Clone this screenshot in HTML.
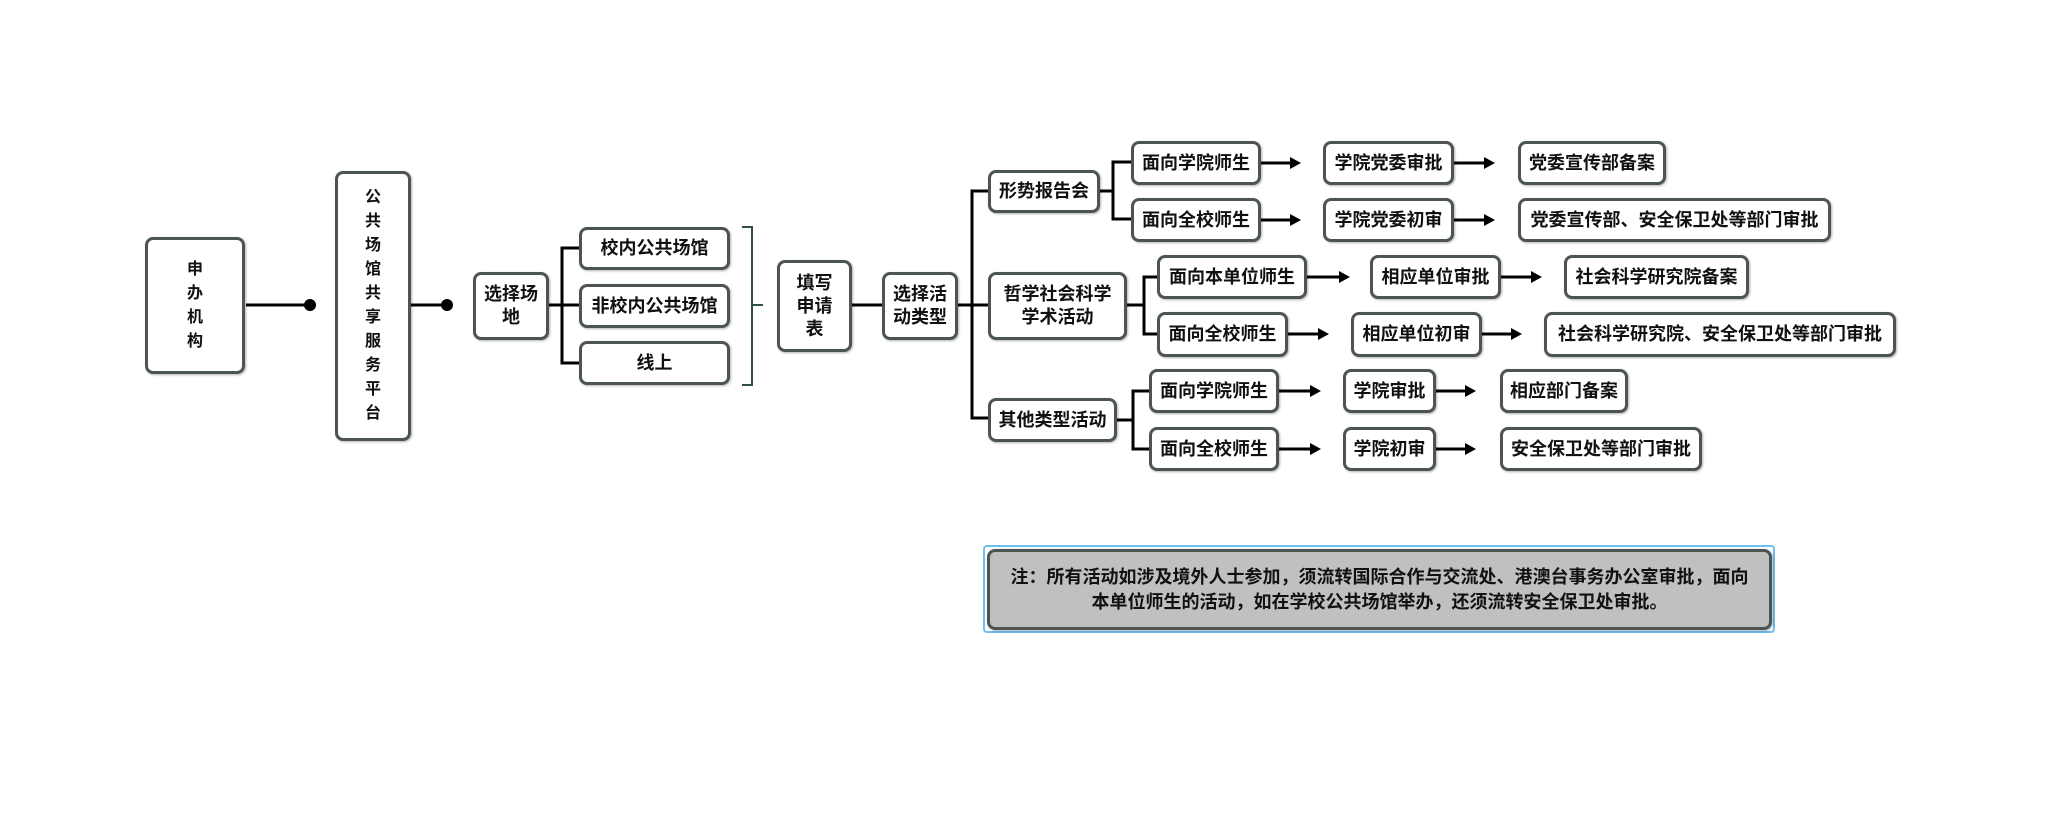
<!DOCTYPE html>
<html><head><meta charset="utf-8"><style>
body{margin:0;width:2048px;height:825px;background:#fff;position:relative;overflow:hidden;font-family:"Liberation Sans","Noto Sans CJK SC",sans-serif;}
.b{position:absolute;box-sizing:border-box;border:3px solid #4c5454;border-radius:8px;background:#fff;display:flex;align-items:center;justify-content:center;text-align:center;font-size:18px;font-weight:bold;color:#111;line-height:23px;box-shadow:1px 1px 2px rgba(0,0,0,.3);white-space:nowrap;}
.v{font-weight:bold;font-size:16px;line-height:24px;}
svg{position:absolute;left:0;top:0;}
</style></head><body>
<svg width="2048" height="825">
<g stroke="#000" stroke-width="3" fill="none">
<line x1="246" y1="305" x2="310" y2="305"/>
<line x1="410" y1="305" x2="447" y2="305"/>
<line x1="548" y1="305" x2="579" y2="305"/>
<polyline points="579,248 562,248 562,363 579,363"/>
<line x1="851" y1="305" x2="882" y2="305"/>
<line x1="957" y1="305" x2="988" y2="305"/>
<polyline points="988,191 972,191 972,418 988,418"/>
<line x1="1099" y1="191" x2="1113" y2="191"/>
<polyline points="1131,162 1113,162 1113,219 1131,219"/>
<line x1="1127" y1="305" x2="1144" y2="305"/>
<polyline points="1157,277 1144,277 1144,334 1157,334"/>
<line x1="1117" y1="420" x2="1133" y2="420"/>
<polyline points="1149,391 1133,391 1133,449 1149,449"/>
<line x1="1261" y1="163" x2="1292" y2="163"/><line x1="1454" y1="163" x2="1486" y2="163"/>
<line x1="1261" y1="220" x2="1292" y2="220"/><line x1="1454" y1="220" x2="1486" y2="220"/>
<line x1="1307" y1="277" x2="1341" y2="277"/><line x1="1501" y1="277" x2="1533" y2="277"/>
<line x1="1288" y1="334" x2="1320" y2="334"/><line x1="1482" y1="334" x2="1513" y2="334"/>
<line x1="1279" y1="391" x2="1312" y2="391"/><line x1="1436" y1="391" x2="1467" y2="391"/>
<line x1="1279" y1="449" x2="1312" y2="449"/><line x1="1436" y1="449" x2="1467" y2="449"/>
</g>
<g fill="#000">
<circle cx="310" cy="305" r="6"/><circle cx="447" cy="305" r="6"/>
<polygon points="1290,157 1301,163 1290,169"/><polygon points="1484,157 1495,163 1484,169"/>
<polygon points="1290,214 1301,220 1290,226"/><polygon points="1484,214 1495,220 1484,226"/>
<polygon points="1339,271 1350,277 1339,283"/><polygon points="1531,271 1542,277 1531,283"/>
<polygon points="1318,328 1329,334 1318,340"/><polygon points="1511,328 1522,334 1511,340"/>
<polygon points="1310,385 1321,391 1310,397"/><polygon points="1465,385 1476,391 1465,397"/>
<polygon points="1310,443 1321,449 1310,455"/><polygon points="1465,443 1476,449 1465,455"/>
</g>
<polyline points="742,227 752,227 752,385 742,385" stroke="#2f4f4f" stroke-width="2" fill="none"/>
<line x1="752" y1="305" x2="763" y2="305" stroke="#2f4f4f" stroke-width="2"/>
</svg>
<div class="b v" style="left:145px;top:237px;width:100px;height:137px;">申<br>办<br>机<br>构</div>
<div class="b v" style="left:335px;top:171px;width:76px;height:270px;">公<br>共<br>场<br>馆<br>共<br>享<br>服<br>务<br>平<br>台</div>
<div class="b" style="left:473px;top:272px;width:76px;height:68px;">选择场<br>地</div>
<div class="b" style="left:579px;top:227px;width:151px;height:43px;">校内公共场馆</div>
<div class="b" style="left:579px;top:284px;width:151px;height:44px;">非校内公共场馆</div>
<div class="b" style="left:579px;top:341px;width:151px;height:44px;">线上</div>
<div class="b" style="left:777px;top:260px;width:75px;height:92px;">填写<br>申请<br>表</div>
<div class="b" style="left:882px;top:272px;width:76px;height:68px;">选择活<br>动类型</div>
<div class="b" style="left:988px;top:170px;width:112px;height:43px;">形势报告会</div>
<div class="b" style="left:988px;top:272px;width:139px;height:68px;">哲学社会科学<br>学术活动</div>
<div class="b" style="left:988px;top:398px;width:129px;height:44px;">其他类型活动</div>
<div class="b" style="left:1131px;top:141px;width:130px;height:44px;">面向学院师生</div>
<div class="b" style="left:1323px;top:141px;width:131px;height:44px;">学院党委审批</div>
<div class="b" style="left:1518px;top:141px;width:148px;height:44px;">党委宣传部备案</div>
<div class="b" style="left:1131px;top:198px;width:130px;height:44px;">面向全校师生</div>
<div class="b" style="left:1323px;top:198px;width:131px;height:44px;">学院党委初审</div>
<div class="b" style="left:1518px;top:198px;width:313px;height:44px;">党委宣传部、安全保卫处等部门审批</div>
<div class="b" style="left:1157px;top:255px;width:150px;height:44px;">面向本单位师生</div>
<div class="b" style="left:1370px;top:255px;width:131px;height:44px;">相应单位审批</div>
<div class="b" style="left:1564px;top:255px;width:185px;height:44px;">社会科学研究院备案</div>
<div class="b" style="left:1157px;top:312px;width:131px;height:45px;">面向全校师生</div>
<div class="b" style="left:1351px;top:312px;width:131px;height:45px;">相应单位初审</div>
<div class="b" style="left:1544px;top:312px;width:352px;height:45px;">社会科学研究院、安全保卫处等部门审批</div>
<div class="b" style="left:1149px;top:369px;width:130px;height:44px;">面向学院师生</div>
<div class="b" style="left:1343px;top:369px;width:93px;height:44px;">学院审批</div>
<div class="b" style="left:1500px;top:369px;width:128px;height:44px;">相应部门备案</div>
<div class="b" style="left:1149px;top:427px;width:130px;height:44px;">面向全校师生</div>
<div class="b" style="left:1343px;top:427px;width:93px;height:44px;">学院初审</div>
<div class="b" style="left:1500px;top:427px;width:202px;height:44px;">安全保卫处等部门审批</div>
<div style="position:absolute;left:983px;top:545px;width:792px;height:88px;box-sizing:border-box;border:2px solid #6cc0f0;border-radius:4px;"></div>
<div class="b" style="left:987px;top:549px;width:785px;height:81px;background:#c0c0c0;line-height:25px;font-size:18px;padding:0 16px;">注：所有活动如涉及境外人士参加，须流转国际合作与交流处、港澳台事务办公室审批，面向<br>本单位师生的活动，如在学校公共场馆举办，还须流转安全保卫处审批。</div>
</body></html>
